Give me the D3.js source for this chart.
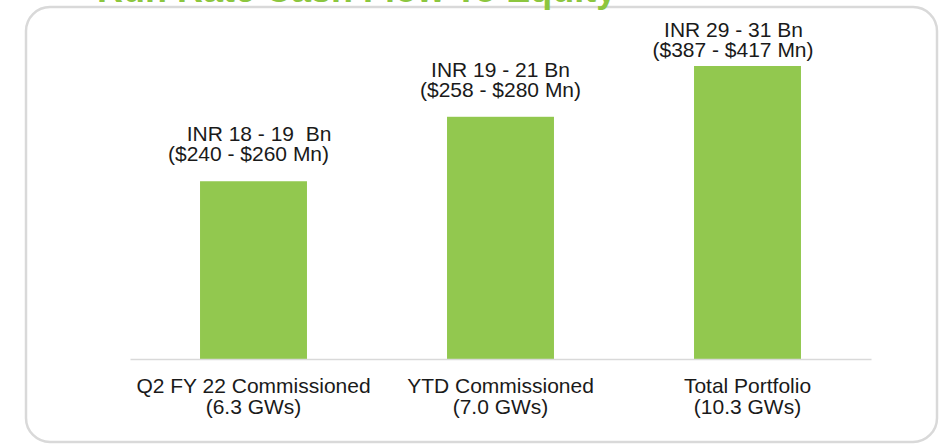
<!DOCTYPE html>
<html>
<head>
<meta charset="utf-8">
<script src="https://cdn.jsdelivr.net/npm/d3@7"></script>
<style>
  html, body { margin: 0; padding: 0; background: #ffffff; }
  svg { display: block; font-family: "Liberation Sans", Arial, sans-serif; }
</style>
</head>
<body>
<svg id="chart" width="940" height="444"></svg>
<script>
// ---- data ----
const title = "Run Rate Cash Flow To Equity";
const categories = ["Q2 FY 22 Commissioned", "YTD Commissioned", "Total Portfolio"];
const categorySub = ["(6.3 GWs)", "(7.0 GWs)", "(10.3 GWs)"];
const values = [18.2, 24.8, 30];
const labelLine1 = ["INR 18 - 19  Bn", "INR 19 - 21 Bn", "INR 29 - 31 Bn"];
const labelLine2 = ["($240 - $260 Mn)", "($258 - $280 Mn)", "($387 - $417 Mn)"];

// ---- layout ----
const svg = d3.select("#chart");
const baseY = 359;
const barColor = "#92c84f";
const titleColor = "#8cc63f";
const gridColor = "#d9d9d9";

// frame
svg.append("rect")
  .attr("x", 26).attr("y", 7)
  .attr("width", 911).attr("height", 435)
  .attr("rx", 24).attr("ry", 24)
  .attr("fill", "#ffffff")
  .attr("stroke", gridColor)
  .attr("stroke-width", 2.5);

const x = d3.scaleBand()
  .domain(categories)
  .range([130, 871])
  .paddingInner(0.567)
  .paddingOuter(0.2835);

const y = d3.scaleLinear().domain([0, 30]).range([baseY, 66]);

// bars
svg.append("g").selectAll("rect")
  .data(values)
  .join("rect")
  .attr("x", (d, i) => x(categories[i]))
  .attr("y", d => y(d))
  .attr("width", x.bandwidth())
  .attr("height", d => baseY - y(d))
  .attr("fill", barColor);

// axis
const axis = svg.append("g")
  .attr("transform", `translate(0,${baseY})`)
  .call(d3.axisBottom(x).tickSize(0).tickSizeOuter(0).tickPadding(0));
axis.select(".domain").attr("stroke", gridColor).attr("stroke-width", 1.5);
axis.selectAll(".tick text").each(function(d, i) {
  const t = d3.select(this);
  t.text(null)
    .attr("y", 0).attr("dy", null)
    .attr("fill", "#1a1a1a")
    .attr("font-size", 21)
    .attr("font-family", "'Liberation Sans', Arial, sans-serif");
  t.append("tspan").attr("x", 0).attr("y", 33.5).text(d);
  t.append("tspan").attr("x", 0).attr("y", 54.5).text(categorySub[i]);
});

// value labels (one text element with two lines each)
const line2Gap = [20, 20, 9];
const dx1 = [5.5, 0, -14];
const dx2 = [-5, 0, -14.5];
const lbl = svg.append("g")
  .attr("font-size", 21)
  .attr("fill", "#1a1a1a")
  .attr("text-anchor", "middle");
values.forEach((v, i) => {
  const cx = x(categories[i]) + x.bandwidth() / 2;
  const yl2 = y(v) - line2Gap[i];
  const t = lbl.append("text").style("white-space", "pre");
  t.append("tspan").attr("x", cx + dx1[i]).attr("y", yl2 - 20).text(labelLine1[i]);
  t.append("tspan").attr("x", cx + dx2[i]).attr("y", yl2).text(labelLine2[i]);
});

// title (clipped at top, as in the reference)
svg.append("text")
  .attr("x", 97).attr("y", 2)
  .attr("font-size", 36)
  .attr("font-weight", "bold")
  .attr("fill", titleColor)
  .text(title);
</script>
</body>
</html>
